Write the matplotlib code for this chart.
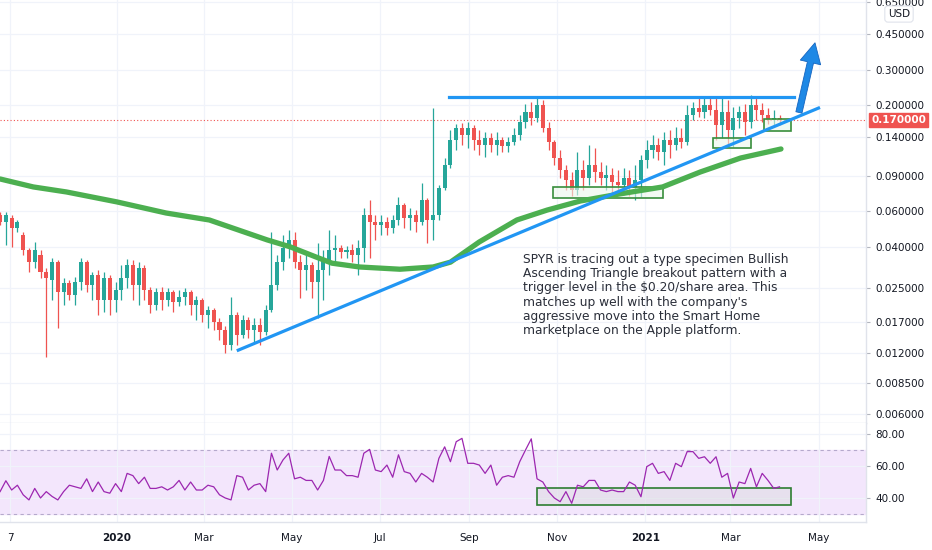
import numpy as np
import pandas as pd
import matplotlib
matplotlib.use("Agg")
import matplotlib.pyplot as plt
import matplotlib.dates as mdates
import matplotlib.transforms as mtransforms
from matplotlib.patches import Rectangle, FancyArrowPatch

# -----------------------------
# candles (one candle per 4 calendar days)
# -----------------------------
start_date = "2019-10-12"
candle_step = "4D"

opens = [
    .0575, .0532, .0556, .0497, .0459, .0387, .0337, .0366, .0301, .0275,
    .0337, .0240, .0266, .0232, .0269, .0337, .0260, .0291, .0219, .0281,
    .0219, .0246, .0281, .0326, .0260, .0315, .0246, .0207, .0240, .0219,
    .0240, .0214, .0227, .0240, .0207, .0219, .0185, .0196, .0171, .0156,
    .0131, .0185, .0147, .0175, .0156, .0165, .0152, .0196, .0260, .0337,
    .0396, .0434, .0337, .0308, .0326, .0269, .0308, .0345, .0387, .0396,
    .0378, .0387, .0366, .0396, .0575, .0532, .0514, .0532, .0497, .0544,
    .0645, .0556, .0575, .0532, .0683, .0544, .0575, .0783, .1016, .1350,
    .1547, .1429, .1547, .1350, .1275, .1381, .1275, .1350, .1261, .1320,
    .1429, .1656, .1855, .1733, .2010, .1547, .1320, .1100, .0960, .0857,
    .0765, .0960, .0877, .1016, .0938, .0877, .0907, .0838, .0810, .0877,
    .0783, .0857, .1075, .1205, .1275, .1178, .1350, .1275, .1381, .1320,
    .1793, .1942, .1855, .2010, .1898, .1600, .1855, .1512, .1733, .1855,
    .1656, .2010, .1898, .1793, .1694, .1733,
]
highs = [
    .0595, .0595, .0575, .0544, .0475, .0396, .0424, .0387, .0315, .0353,
    .0345, .0281, .0275, .0284, .0353, .0345, .0301, .0308, .0301, .0291,
    .0269, .0326, .0349, .0345, .0337, .0326, .0254, .0251, .0254, .0251,
    .0246, .0246, .0251, .0246, .0230, .0225, .0205, .0200, .0179, .0163,
    .0227, .0192, .0185, .0181, .0179, .0179, .0207, .0475, .0366, .0459,
    .0486, .0475, .0366, .0366, .0337, .0419, .0387, .0486, .0459, .0410,
    .0405, .0415, .0434, .0624, .0683, .0575, .0575, .0562, .0575, .0707,
    .0660, .0624, .0609, .0828, .0699, .1942, .0810, .1100, .1512, .1619,
    .1637, .1656, .1600, .1512, .1478, .1461, .1478, .1396, .1396, .1547,
    .1793, .2033, .2079, .2199, .2127, .1656, .1350, .1205, .1016, .0938,
    .1178, .1075, .1275, .1233, .1051, .1016, .0982, .0960, .0982, .0960,
    .1016, .1138, .1350, .1429, .1381, .1478, .1512, .1565, .1547, .2010,
    .2079, .2174, .2174, .2174, .2199, .2174, .2127, .1964, .1987, .2033,
    .2260, .2224, .2056, .1942, .1898, .1793,
]
lows = [
    .0514, .0410, .0401, .0475, .0366, .0301, .0315, .0281, .01145, .0219,
    .0160, .0207, .0219, .0207, .0246, .0240, .0219, .0185, .0192, .0185,
    .0192, .0219, .0251, .0219, .0207, .0219, .0189, .0196, .0196, .0205,
    .0192, .0205, .0207, .0185, .0175, .0171, .0160, .0156, .0139, .0120,
    .0124, .0131, .0142, .0142, .0136, .0131, .0147, .0192, .0246, .0308,
    .0353, .0315, .0225, .0246, .0225, .0179, .0219, .0291, .0337, .0353,
    .0353, .0337, .0291, .0337, .0353, .0434, .0459, .0459, .0470, .0514,
    .0497, .0486, .0475, .0514, .0419, .0434, .0544, .0765, .0982, .1205,
    .1275, .1233, .1205, .1138, .1113, .1178, .1138, .1178, .1178, .1275,
    .1350, .1547, .1600, .1656, .1478, .1205, .1016, .0877, .0765, .0715,
    .0723, .0765, .0810, .0838, .0810, .0765, .0748, .0748, .0723, .0715,
    .0683, .0707, .0982, .1100, .1075, .1016, .1100, .1205, .1233, .1275,
    .1694, .1753, .1733, .1793, .1350, .1381, .1275, .1247, .1547, .1429,
    .1547, .1694, .1656, .1619, .1582, .1600,
]
closes = [
    .0532, .0575, .0497, .0532, .0387, .0337, .0387, .0301, .0281, .0337,
    .0240, .0266, .0232, .0269, .0337, .0260, .0291, .0219, .0281, .0219,
    .0246, .0281, .0326, .0260, .0315, .0246, .0207, .0240, .0219, .0240,
    .0214, .0227, .0240, .0207, .0219, .0185, .0196, .0171, .0156, .0131,
    .0185, .0147, .0175, .0156, .0165, .0152, .0196, .0260, .0337, .0396,
    .0434, .0337, .0308, .0326, .0269, .0308, .0345, .0387, .0396, .0378,
    .0387, .0366, .0396, .0575, .0532, .0514, .0532, .0497, .0544, .0645,
    .0556, .0575, .0532, .0683, .0544, .0575, .0783, .1016, .1350, .1547,
    .1429, .1547, .1350, .1275, .1381, .1275, .1350, .1261, .1320, .1429,
    .1656, .1855, .1733, .2010, .1547, .1320, .1100, .0960, .0857, .0765,
    .0960, .0877, .1016, .0938, .0877, .0907, .0838, .0810, .0877, .0783,
    .0857, .1075, .1205, .1275, .1178, .1350, .1275, .1381, .1320, .1793,
    .1942, .1855, .2010, .1898, .1600, .1855, .1512, .1733, .1855, .1656,
    .2010, .1898, .1793, .1694, .1733, .1700,
]

# RSI(14), one reading per candle
rsi = [
    44, 50.8, 45, 48, 42, 38.8, 46, 40, 44, 41,
    38.8, 44, 48, 47, 46, 52, 44, 50, 44, 43,
    49, 44, 55.4, 54, 49, 53, 46, 46, 47, 45,
    47, 51, 45, 50, 45, 45, 48, 47, 42, 40,
    38.8, 54, 53, 45, 48, 49, 44, 68, 57.5, 63.8,
    68, 52, 53, 51, 51, 45, 51, 66, 57.5, 57.5,
    54, 54, 53, 68, 70.4, 57.5, 56.5, 60.6, 53, 67,
    56.5, 55.4, 50, 55.4, 53, 50, 64.8, 72, 62.7, 75.2,
    77.3, 61.7, 61.7, 60.6, 55.4, 60.6, 48, 53, 54, 53,
    62.7, 70, 77, 52, 50, 44, 40, 37.7, 44, 36.7,
    48, 47, 51, 51, 45, 44, 45, 44, 44, 50,
    48, 40.8, 59.6, 61.7, 55.4, 56.5, 51, 61.7, 59.6, 69,
    69, 64.8, 65.8, 61.7, 65.8, 53, 55.4, 40, 50, 49,
    58.5, 47, 55.4, 51, 46, 47,
]

# 200-day moving average (green curve)
ma_dates = [
    "2019-10-12", "2019-11-04", "2019-11-27", "2020-01-01", "2020-02-04",
    "2020-03-05", "2020-03-21", "2020-04-14", "2020-04-30", "2020-05-18",
    "2020-05-29", "2020-06-17", "2020-07-15", "2020-08-07", "2020-08-19",
    "2020-09-08", "2020-10-04", "2020-10-25", "2020-11-17", "2020-12-14",
    "2021-01-13", "2021-02-08", "2021-03-08", "2021-04-05",
]
ma_values = [
    .0867, .0792, .0748, .0668, .0589,
    .0544, .0497, .0434, .0401, .0357,
    .0333, .0319, .0311, .0319, .0337,
    .0424, .0544, .0609, .0675, .0731,
    .0792, .0938, .1100, .1219,
]

# drawings
resistance_level = 0.22
resistance_span = ("2020-08-18", "2021-04-14")
support_dates = ("2020-03-25", "2021-05-01")
support_prices = (0.0124, 0.194)
arrow_from = ("2021-04-17", 0.179)
arrow_to = ("2021-04-29", 0.42)
price_boxes = [  # (start, end, low, high)
    ("2020-10-29", "2021-01-13", 0.0699, 0.0792),
    ("2021-02-17", "2021-03-15", 0.1233, 0.1381),
    ("2021-03-24", "2021-04-12", 0.1495, 0.1713),
]
rsi_box = ("2020-10-18", "2021-04-12", 35.6, 46.0)
last_price = 0.17

price_ticks = [0.006, 0.0085, 0.012, 0.017, 0.025, 0.04, 0.06, 0.09,
               0.14, 0.2, 0.3, 0.45, 0.65]
rsi_ticks = [40, 60, 80]
time_ticks = ["2019-10-19", "2020-01-01", "2020-03-01", "2020-05-01",
              "2020-07-01", "2020-09-01", "2020-11-01", "2021-01-01",
              "2021-03-01", "2021-05-01"]
time_labels = ["7", "2020", "Mar", "May", "Jul", "Sep", "Nov", "2021", "Mar", "May"]

note = ("SPYR is tracing out a type specimen Bullish\n"
        "Ascending Triangle breakout pattern with a\n"
        "trigger level in the $0.20/share area. This\n"
        "matches up well with the company's\n"
        "aggressive move into the Smart Home\n"
        "marketplace on the Apple platform.")

# -----------------------------
# styling
# -----------------------------
UP, DOWN = "#26a69a", "#ef5350"
BLUE, GREEN = "#2196f3", "#4caf50"
BOX_EDGE = "#388e3c"
GRID = "#f0f3fa"
BORDER = "#e0e3eb"
TXT = "#131722"

def dn(s):
    return mdates.date2num(pd.Timestamp(s))

W, H = 932, 550
fig = plt.figure(figsize=(W / 100, H / 100), dpi=100)
ax = fig.add_axes([0, 1 - 423 / H, 866 / W, 423 / H])
ax_rsi = fig.add_axes([0, 1 - 522 / H, 866 / W, 99 / H], sharex=ax)

dates = mdates.date2num(pd.date_range(start_date, periods=len(closes), freq=candle_step))
o, h, l, c = map(np.asarray, (opens, highs, lows, closes))
colors = np.where(c >= o, UP, DOWN)

# candles
ax.vlines(dates, l, h, colors=colors, lw=0.9, zorder=2)
ax.bar(dates, np.abs(c - o), bottom=np.minimum(o, c), width=2.8,
       color=colors, linewidth=0, zorder=3)

# green boxes (over candles, under the lines)
for d0, d1, lo, hi in price_boxes:
    ax.add_patch(Rectangle((dn(d0), lo), dn(d1) - dn(d0), hi - lo,
                           facecolor=(0.92, 0.97, 0.92, 0.6), edgecolor=BOX_EDGE,
                           lw=1.2, zorder=3.5))

# moving average
ax.plot([dn(d) for d in ma_dates], ma_values, color=GREEN, lw=3.8,
        solid_capstyle="round", zorder=4)

# triangle lines
ax.plot([dn(resistance_span[0]), dn(resistance_span[1])],
        [resistance_level, resistance_level], color=BLUE, lw=2.3, zorder=5)
ax.plot([dn(support_dates[0]), dn(support_dates[1])], support_prices,
        color=BLUE, lw=2.3, zorder=5)

# breakout arrow
arr = FancyArrowPatch((dn(arrow_from[0]), arrow_from[1]), (dn(arrow_to[0]), arrow_to[1]),
                      arrowstyle="simple,head_width=1.5,head_length=1.45,tail_width=0.45",
                      mutation_scale=10, facecolor="#1e88e5", edgecolor="#1565c0",
                      lw=0.6, zorder=6)
ax.add_patch(arr)

# last price line + label
ax.axhline(last_price, color=DOWN, lw=0.8, ls=(0, (1, 2)), zorder=1)
trans = mtransforms.blended_transform_factory(ax.transAxes, ax.transData)
ax.text(1.006, last_price, f"{last_price:.6f}", transform=trans, ha="left", va="center",
        fontsize=7.5, color="white", fontweight="bold", clip_on=False, zorder=10,
        bbox=dict(boxstyle="square,pad=0.2", facecolor=DOWN, edgecolor=DOWN))

ax.set_yscale("log")
ax.set_ylim(0.005421, 0.6622)
ax.set_xlim(dn("2020-01-01") - 81.06, dn("2020-01-01") + 518.9)
ax.yaxis.tick_right()
ax.set_yticks(price_ticks)
ax.set_yticklabels([f"{t:.6f}" for t in price_ticks])
ax.yaxis.set_minor_locator(matplotlib.ticker.NullLocator())
ax.set_xticks([dn(d) for d in time_ticks])
ax.tick_params(axis="x", labelbottom=False, length=0)

fig.text(899 / W, 1 - 14 / H, "USD", ha="center", va="center", fontsize=7.5, color=TXT,
         bbox=dict(boxstyle="round,pad=0.3", facecolor="white", edgecolor=BORDER, lw=0.8))

fig.text(523 / W, 1 - 253 / H, note, ha="left", va="top", fontsize=8.85,
         color="#2a2e39", linespacing=1.12)

# RSI pane
ax_rsi.axhspan(30, 70, color="#f3e6fc", zorder=0)
for lvl in (30, 70):
    ax_rsi.axhline(lvl, color="#b5a9cc", lw=0.8, ls=(0, (3, 3)), zorder=1)
d0, d1, lo, hi = rsi_box
ax_rsi.add_patch(Rectangle((dn(d0), lo), dn(d1) - dn(d0), hi - lo,
                           facecolor=(0.85, 0.85, 0.87, 0.45), edgecolor="#2e7d32",
                           lw=1.2, zorder=2))
ax_rsi.plot(dates, rsi, color="#9c27b0", lw=0.9, zorder=3)
ax_rsi.set_ylim(25, 86.9)
ax_rsi.yaxis.tick_right()
ax_rsi.set_yticks(rsi_ticks)
ax_rsi.set_yticklabels([f"{t:.2f}" for t in rsi_ticks])
ax_rsi.set_xticks([dn(d) for d in time_ticks])
ax_rsi.set_xticklabels(time_labels)
for lab, txt in zip(ax_rsi.get_xticklabels(), time_labels):
    if txt.isdigit() and len(txt) == 4:
        lab.set_fontweight("bold")
ax_rsi.tick_params(axis="x", length=0, pad=8)

for a in (ax, ax_rsi):
    a.set_facecolor("white")
    a.grid(True, color=GRID, lw=0.9, zorder=0)
    a.set_axisbelow(True)
    for s in ("top", "left"):
        a.spines[s].set_visible(False)
    for s in ("right", "bottom"):
        a.spines[s].set_color(BORDER)
        a.spines[s].set_linewidth(1.0)
    a.tick_params(axis="y", length=3, width=0.8, color="#b2b5be", pad=4,
                  labelsize=7.5, labelcolor=TXT)
    a.tick_params(axis="x", labelsize=7.5, labelcolor=TXT)

fig.savefig("out.png", dpi=100)
